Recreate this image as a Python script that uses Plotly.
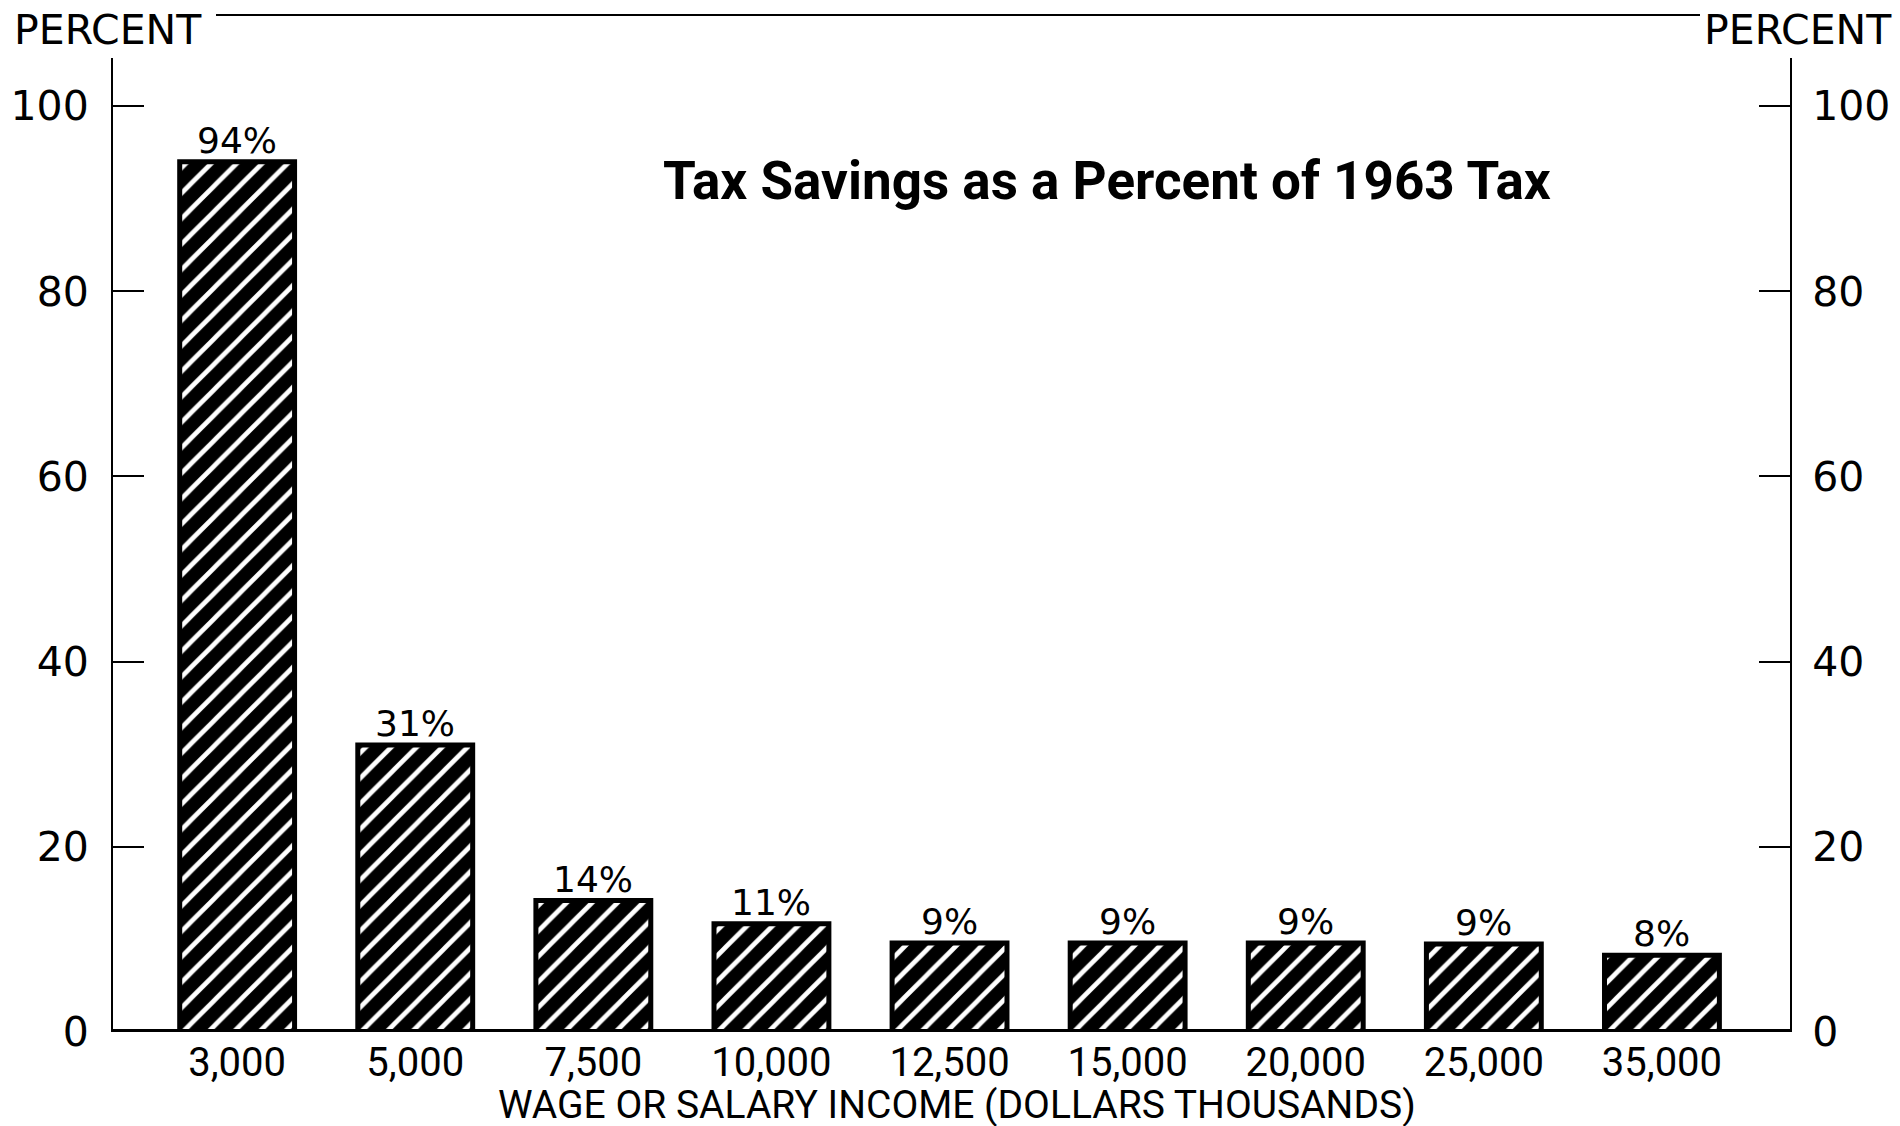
import plotly.graph_objects as go

# ---- data ----
income_labels = ["3,000", "5,000", "7,500", "10,000", "12,500", "15,000", "20,000", "25,000", "35,000"]
savings_pct = [94, 31, 14.2, 11.7, 9.6, 9.6, 9.6, 9.5, 8.3]
value_labels = ["94%", "31%", "14%", "11%", "9%", "9%", "9%", "9%", "8%"]
y_ticks = [0, 20, 40, 60, 80, 100]

W, H = 1900, 1126
L, R, T, B = 113, 110, 58, 94
plot_w = W - L - R
plot_h = H - T - B
y_max = 105.2
x_range = [-0.697, 8.719]

def px_x(px):
    return (px - L) / plot_w

def px_y(py):
    return (H - B - py) / plot_h

fig = go.Figure()
fig.add_trace(go.Bar(
    x=income_labels, y=savings_pct, width=0.645,
    marker=dict(
        color="black",
        line=dict(color="black", width=5),
        pattern=dict(shape="/", size=18, solidity=0.26, fgcolor="white", bgcolor="black", fillmode="replace"),
    ),
    hoverinfo="skip", showlegend=False,
))
fig.add_trace(go.Scatter(x=income_labels, y=savings_pct, mode="none", yaxis="y2",
                         showlegend=False, hoverinfo="skip"))

for cat, v, lab in zip(income_labels, savings_pct, value_labels):
    fig.add_annotation(x=cat, y=v, text=lab, showarrow=False, yanchor="bottom",
                       yshift=-1, font=dict(family="DejaVu Sans", size=36, color="black"))

tick_font = dict(family="DejaVu Sans", size=41, color="black")
axis_common = dict(range=[0, y_max], tickvals=y_ticks, ticks="inside", ticklen=31,
                   tickwidth=2, tickcolor="black", showline=True, linecolor="black",
                   linewidth=2, showgrid=False, zeroline=False, tickfont=tick_font,
                   automargin=False)

fig.update_layout(
    width=W, height=H, autosize=False,
    margin=dict(l=L, r=R, t=T, b=B),
    paper_bgcolor="white", plot_bgcolor="white",
    xaxis=dict(range=x_range, showline=False, showgrid=False, zeroline=False, ticks="",
               tickfont=dict(family="Roboto", size=40, color="black"), ticklabelstandoff=3,
               automargin=False),
    yaxis=dict(side="left", ticklabelstandoff=14, **axis_common),
    yaxis2=dict(side="right", overlaying="y", ticklabelstandoff=12, **axis_common),
)

# thick baseline
fig.add_shape(type="line", xref="paper", yref="y", x0=0, x1=1, y0=0, y1=0,
              line=dict(color="black", width=6))
# top rule
fig.add_shape(type="line", xref="paper", yref="paper", x0=px_x(216), x1=px_x(1700),
              y0=px_y(15), y1=px_y(15), line=dict(color="black", width=2))

fig.add_annotation(xref="paper", yref="paper", x=px_x(12), y=px_y(30), xanchor="left", yanchor="middle",
                   text="PERCENT", showarrow=False, font=dict(family="DejaVu Sans", size=41, color="black"))
fig.add_annotation(xref="paper", yref="paper", x=px_x(1894), y=px_y(30), xanchor="right", yanchor="middle",
                   text="PERCENT", showarrow=False, font=dict(family="DejaVu Sans", size=41, color="black"))
fig.add_annotation(xref="paper", yref="paper", x=px_x(1107), y=px_y(181), xanchor="center", yanchor="middle",
                   text="<b>Tax Savings as a Percent of 1963 Tax</b>", showarrow=False,
                   font=dict(family="Roboto", size=53, color="black"))
fig.add_annotation(xref="paper", yref="paper", x=px_x(957), y=px_y(1105), xanchor="center", yanchor="middle",
                   borderpad=0, text="WAGE OR SALARY INCOME (DOLLARS THOUSANDS)", showarrow=False,
                   font=dict(family="Roboto", size=39, color="black"))

fig.write_html("out.html")
